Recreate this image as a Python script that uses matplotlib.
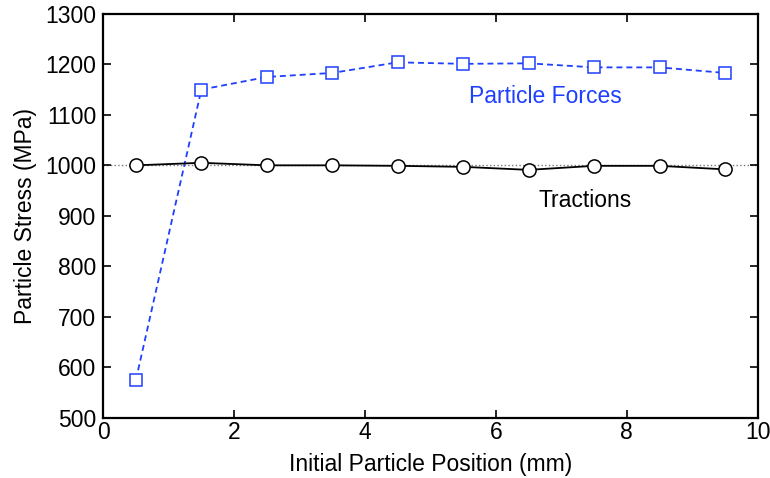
import matplotlib
matplotlib.use("Agg")
import matplotlib.pyplot as plt

plt.rcParams['font.family'] = ['Liberation Sans', 'DejaVu Sans']

# particle positions (mm) and stresses (MPa)
position = [0.5, 1.5, 2.5, 3.5, 4.5, 5.5, 6.5, 7.5, 8.5, 9.5]
forces = [575, 1150, 1175, 1183, 1204, 1201, 1202, 1194, 1194, 1183]
tractions = [1000, 1005, 1000, 1000, 999, 997, 991, 999, 999, 992]
reference_stress = 1000

blue = '#1f3fff'

fig = plt.figure(figsize=(7.7, 4.78), dpi=100)
ax = fig.add_axes([0.134, 0.126, 0.850, 0.845])

ax.axhline(reference_stress, color='#777777', linestyle=':', linewidth=1.0, zorder=1)
ax.plot(position, tractions, color='black', linewidth=1.3, marker='o',
        markersize=9.5, markerfacecolor='white', markeredgecolor='black',
        markeredgewidth=1.1, zorder=3)
ax.plot(position, forces, color=blue, linewidth=1.3, linestyle=(0, (3.3, 2.2)),
        marker='s', markersize=8.8, markerfacecolor='white', markeredgecolor=blue,
        markeredgewidth=1.1, zorder=2)

ax.text(6.75, 1137, 'Particle Forces', color=blue, fontsize=16.5,
        ha='center', va='center')
ax.text(7.37, 930, 'Tractions', color='black', fontsize=16.5,
        ha='center', va='center')

ax.set_xlim(0, 10)
ax.set_ylim(500, 1300)
ax.set_xticks(range(0, 11, 2))
ax.set_yticks(range(500, 1301, 100))
ax.tick_params(direction='in', length=6, width=1.2, top=True, right=True,
               labelsize=16.5)
ax.tick_params(axis='x', pad=2)
ax.tick_params(axis='y', pad=5)
for s in ax.spines.values():
    s.set_linewidth(1.6)

ax.set_xlabel('Initial Particle Position (mm)', fontsize=16.5, labelpad=7)
ax.set_ylabel('Particle Stress (MPa)', fontsize=16.5, labelpad=6)

fig.savefig('out.png', dpi=100)
